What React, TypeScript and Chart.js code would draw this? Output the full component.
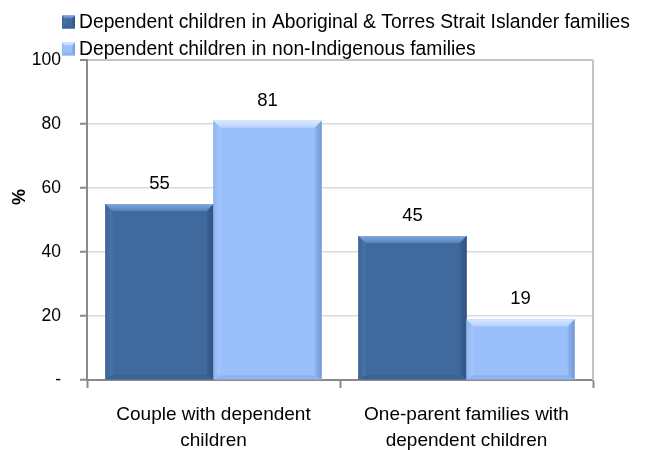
import React, { useEffect, useRef } from "react";
import { Chart, registerables } from "chart.js";

Chart.register(...registerables);

// ---- data ----
const categories: string[][] = [
  ["Couple with dependent", "children"],
  ["One-parent families with", "dependent children"],
];
const seriesNames: string[] = [
  "Dependent children in Aboriginal & Torres Strait Islander families",
  "Dependent children in non-Indigenous families",
];
const aboriginalValues: number[] = [55, 45];
const nonIndigenousValues: number[] = [81, 19];
const yTickValues: number[] = [0, 20, 40, 60, 80, 100];
const yZeroLabel = "-";
const yAxisTitle = "%";

// ---- styles ----
const FONT = '"Liberation Sans", Arial, sans-serif';
type Pal = {
  face: string;
  topLight: string;
  topDark: string;
  leftOuter: string;
  leftInner: string;
  rightInner: string;
  rightOuter: string;
  bottom: string;
};
const palettes: Pal[] = [
  {
    face: "#40699D",
    topLight: "#80A9E0",
    topDark: "#5782BC",
    leftOuter: "#3C6498",
    leftInner: "#4A75AB",
    rightInner: "#3C6396",
    rightOuter: "#2F5281",
    bottom: "#3A6192",
  },
  {
    face: "#9ABFFA",
    topLight: "#D8E8FF",
    topDark: "#B6D3FD",
    leftOuter: "#90B5F0",
    leftInner: "#A4C6FB",
    rightInner: "#91B6F2",
    rightOuter: "#7398D3",
    bottom: "#8EB3EF",
  },
];

function poly(ctx: CanvasRenderingContext2D, pts: number[][], fill: string | CanvasGradient) {
  ctx.beginPath();
  ctx.moveTo(pts[0][0], pts[0][1]);
  for (let i = 1; i < pts.length; i++) ctx.lineTo(pts[i][0], pts[i][1]);
  ctx.closePath();
  ctx.fillStyle = fill;
  ctx.fill();
}

function drawBevelRect(
  ctx: CanvasRenderingContext2D,
  l: number,
  t: number,
  w: number,
  h: number,
  pal: Pal,
  b: number
) {
  const r = l + w;
  const btm = t + h;
  ctx.fillStyle = pal.face;
  ctx.fillRect(l, t, w, h);
  const bb = Math.min(b, h / 2, w / 2);
  const bbot = Math.min(bb, 4);
  // left
  const gl = ctx.createLinearGradient(l, 0, l + bb, 0);
  gl.addColorStop(0, pal.leftOuter);
  gl.addColorStop(1, pal.leftInner);
  poly(ctx, [[l, t], [l + bb, t + bb], [l + bb, btm - bbot], [l, btm]], gl);
  // right
  const gr = ctx.createLinearGradient(r - bb, 0, r, 0);
  gr.addColorStop(0, pal.rightInner);
  gr.addColorStop(1, pal.rightOuter);
  poly(ctx, [[r, t], [r, btm], [r - bb, btm - bbot], [r - bb, t + bb]], gr);
  // bottom
  poly(ctx, [[l, btm], [r, btm], [r - bb, btm - bbot], [l + bb, btm - bbot]], pal.bottom);
  // top
  const gt = ctx.createLinearGradient(0, t, 0, t + bb);
  gt.addColorStop(0, pal.topLight);
  gt.addColorStop(1, pal.topDark);
  poly(ctx, [[l, t], [r, t], [r - bb, t + bb], [l + bb, t + bb]], gt);
}

const bevelPlugin = {
  id: "bevelBars",
  afterDatasetsDraw(chart: any) {
    const ctx: CanvasRenderingContext2D = chart.ctx;
    ctx.save();
    chart.data.datasets.forEach((ds: any, di: number) => {
      const meta = chart.getDatasetMeta(di);
      meta.data.forEach((el: any, i: number) => {
        const p = el.getProps(["x", "y", "base", "width"], true);
        const l = p.x - p.width / 2;
        const t = Math.min(p.y, p.base);
        const h = Math.abs(p.base - p.y);
        drawBevelRect(ctx, l, t, p.width, h, palettes[di], 7);
        // value label
        ctx.fillStyle = "#000";
        ctx.font = `18.5px ${FONT}`;
        ctx.textAlign = "center";
        ctx.textBaseline = "middle";
        ctx.fillText(String(ds.data[i]), p.x, t - 20);
      });
    });
    ctx.restore();
  },
};

const framePlugin = {
  id: "frameExtras",
  beforeDatasetsDraw(chart: any) {
    const { ctx, chartArea } = chart;
    ctx.save();
    ctx.strokeStyle = "#C4C4C4";
    ctx.lineWidth = 2;
    ctx.beginPath();
    ctx.moveTo(chartArea.right, chartArea.top);
    ctx.lineTo(chartArea.right, chartArea.bottom);
    ctx.stroke();
    ctx.restore();
  },
  afterDraw(chart: any) {
    const ctx: CanvasRenderingContext2D = chart.ctx;
    ctx.save();
    // legend
    chart.data.datasets.forEach((ds: any, i: number) => {
      const cy = 22 + i * 27;
      const size = 13;
      drawBevelRect(ctx, 62, cy - size / 2, size, size, palettes[i], 3);
      ctx.fillStyle = "#000";
      ctx.font = `19.3px ${FONT}`;
      ctx.textAlign = "left";
      ctx.textBaseline = "middle";
      ctx.fillText(ds.label, 79, cy + 1);
    });
    // y axis title
    ctx.translate(20, 197);
    ctx.rotate(-Math.PI / 2);
    ctx.font = `bold 18px ${FONT}`;
    ctx.textAlign = "center";
    ctx.textBaseline = "middle";
    ctx.fillStyle = "#000";
    ctx.fillText(yAxisTitle, 0, 0);
    ctx.restore();
  },
};

export default function App() {
  const ref = useRef<HTMLCanvasElement | null>(null);

  useEffect(() => {
    if (!ref.current) return;
    const chart = new Chart(ref.current, {
      type: "bar",
      data: {
        labels: categories,
        datasets: [
          {
            label: seriesNames[0],
            data: aboriginalValues,
            backgroundColor: palettes[0].face,
            categoryPercentage: 0.854,
            barPercentage: 1,
          },
          {
            label: seriesNames[1],
            data: nonIndigenousValues,
            backgroundColor: palettes[1].face,
            categoryPercentage: 0.854,
            barPercentage: 1,
          },
        ],
      },
      options: {
        responsive: false,
        animation: false,
        events: [],
        layout: { padding: { top: 60, right: 52, left: 0, bottom: 0 } },
        plugins: {
          legend: { display: false },
          tooltip: { enabled: false },
          title: { display: false },
        },
        scales: {
          x: {
            offset: true,
            grid: {
              offset: true,
              drawOnChartArea: false,
              drawTicks: true,
              tickLength: 8,
              tickColor: "#8A8A8A",
              tickWidth: 2,
            },
            border: { color: "#8A8A8A", width: 2 },
            ticks: {
              color: "#000",
              font: { family: FONT, size: 19, lineHeight: 1.37 },
              padding: 14,
              maxRotation: 0,
              autoSkip: false,
            },
            afterFit: (s: any) => {
              s.height = 70;
            },
          },
          y: {
            min: 0,
            max: 100,
            afterBuildTicks: (s: any) => {
              s.ticks = yTickValues.map((v) => ({ value: v }));
            },
            grid: {
              color: (c: any) => (c.tick && c.tick.value === 100 ? "#C4C4C4" : "#DADADA"),
              lineWidth: (c: any) => (c.tick && c.tick.value === 100 ? 2 : 1.5),
              tickColor: "#8A8A8A",
              tickLength: 7,
              tickWidth: 2,
            },
            border: { color: "#8A8A8A", width: 2 },
            ticks: {
              color: "#000",
              font: { family: FONT, size: 17.5 },
              padding: 19,
              callback: (v: any) => (Number(v) === 0 ? yZeroLabel : String(v)),
            },
            afterFit: (s: any) => {
              s.width = 87;
            },
          },
        },
      },
      plugins: [framePlugin, bevelPlugin],
    });
    return () => chart.destroy();
  }, []);

  return (
    <div style={{ position: "absolute", left: 0, top: 0, width: 645, height: 450, background: "#fff" }}>
      <canvas ref={ref} width={645} height={450} style={{ width: 645, height: 450, display: "block" }} />
    </div>
  );
}
